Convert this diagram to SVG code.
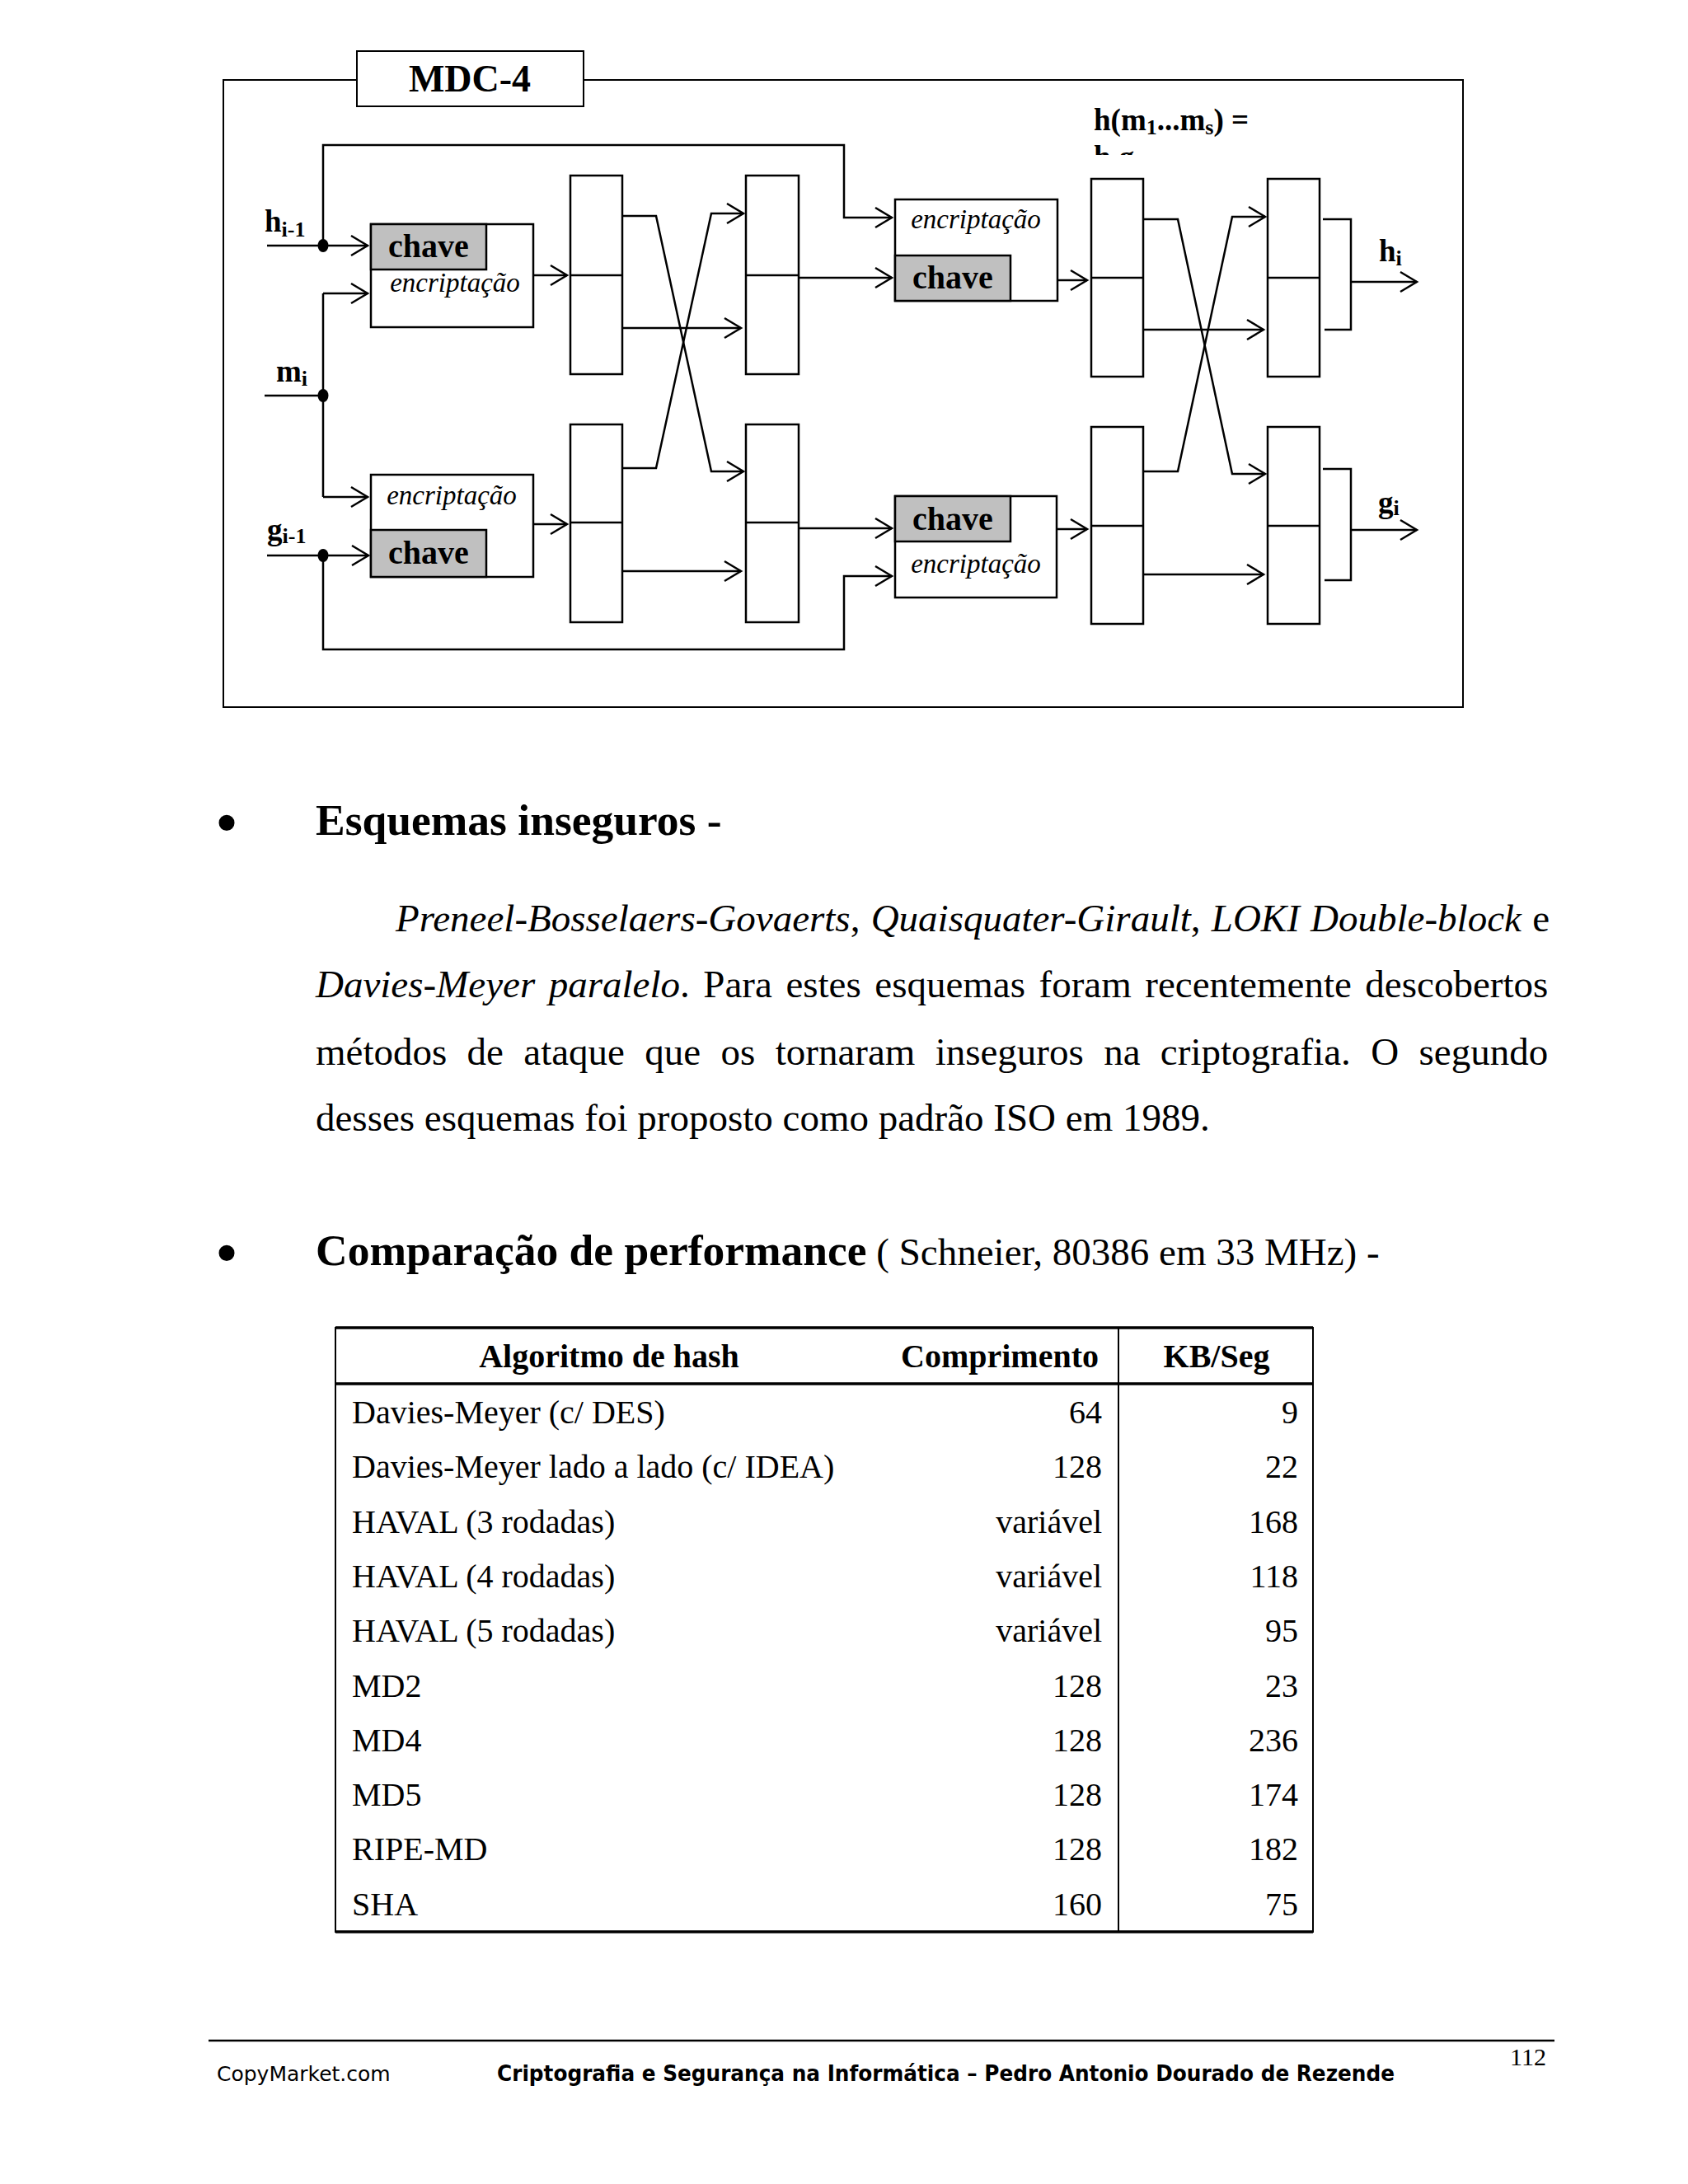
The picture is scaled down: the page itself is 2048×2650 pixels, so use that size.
<svg xmlns="http://www.w3.org/2000/svg" width="2048" height="2650" viewBox="0 0 2048 2650">
<style>
.ln{fill:none;stroke:#000;stroke-width:2.5}
.bx{fill:#fff;stroke:#000;stroke-width:2.5}
.key{fill:#c0c0c0;stroke:#000;stroke-width:2.5}
.kt{font-family:"Liberation Serif",serif;font-weight:bold;font-size:40px;text-anchor:middle}
.et{font-family:"Liberation Serif",serif;font-style:italic;font-size:33px;text-anchor:middle}
.lbl{font-family:"Liberation Serif",serif;font-weight:bold;font-size:37px}
.sub{font-size:26px}
.body{font-family:"Liberation Serif",serif;font-size:47px}
.it{font-style:italic}
.hd{font-family:"Liberation Serif",serif;font-weight:bold;font-size:53.5px}
.bul{font-family:"Liberation Serif",serif;font-size:80px}
.tb{font-family:"Liberation Serif",serif;font-size:40px}
.tbh{font-family:"Liberation Serif",serif;font-size:40px;font-weight:bold}
.r{text-anchor:end}
.c{text-anchor:middle}
</style>
<defs>
<marker id="ah" markerUnits="userSpaceOnUse" markerWidth="30" markerHeight="30" viewBox="-24 -15 30 30" refX="0" refY="0" orient="auto">
<path d="M-20,-12 L0,0 L-20,12" fill="none" stroke="#000" stroke-width="2.5"/>
</marker>
<clipPath id="clipH"><rect x="1300" y="100" width="300" height="88"/></clipPath>
</defs>
<rect width="2048" height="2650" fill="#fff"/>

<g id="frame">
<rect x="271" y="97" width="1504" height="761" fill="none" stroke="#000" stroke-width="2"/>
</g>

<g id="connectors">
<path class="ln" d="M324,298 H446" marker-end="url(#ah)"/>
<path class="ln" d="M392,298 V176 H1024 V264 H1082" marker-end="url(#ah)"/>
<path class="ln" d="M321,480 H392"/>
<path class="ln" d="M392,356 V603"/>
<path class="ln" d="M392,356 H446" marker-end="url(#ah)"/>
<path class="ln" d="M392,603 H446" marker-end="url(#ah)"/>
<path class="ln" d="M324,674 H447" marker-end="url(#ah)"/>
<path class="ln" d="M392,674 V788 H1024 V699 H1082" marker-end="url(#ah)"/>
<path class="ln" d="M647,334 H688" marker-end="url(#ah)"/>
<path class="ln" d="M647,636 H688" marker-end="url(#ah)"/>
<path class="ln" d="M755,262 H796 L863,572 H902" marker-end="url(#ah)"/>
<path class="ln" d="M755,568 H796 L863,259 H902" marker-end="url(#ah)"/>
<path class="ln" d="M755,398 H899" marker-end="url(#ah)"/>
<path class="ln" d="M755,693 H899" marker-end="url(#ah)"/>
<path class="ln" d="M969,337 H1082" marker-end="url(#ah)"/>
<path class="ln" d="M969,641 H1082" marker-end="url(#ah)"/>
<path class="ln" d="M1283,340 H1319" marker-end="url(#ah)"/>
<path class="ln" d="M1282,642 H1319" marker-end="url(#ah)"/>
<path class="ln" d="M1387,266 H1429 L1495,575 H1535" marker-end="url(#ah)"/>
<path class="ln" d="M1387,572 H1429 L1495,263 H1535" marker-end="url(#ah)"/>
<path class="ln" d="M1387,400 H1533" marker-end="url(#ah)"/>
<path class="ln" d="M1387,697 H1533" marker-end="url(#ah)"/>
<path class="ln" d="M1605,266 H1639 V400 H1607"/>
<path class="ln" d="M1639,342 H1719" marker-end="url(#ah)"/>
<path class="ln" d="M1605,569 H1639 V704 H1607"/>
<path class="ln" d="M1639,643 H1719" marker-end="url(#ah)"/>
</g>

<g id="dots">
<ellipse cx="392" cy="298" rx="6.5" ry="8"/>
<ellipse cx="392" cy="480" rx="6.5" ry="8"/>
<ellipse cx="392" cy="674" rx="6.5" ry="8"/>
</g>

<g id="title">
<rect x="433" y="62" width="275" height="67" fill="#fff" stroke="#000" stroke-width="2"/>
<text x="570" y="111" font-family="Liberation Serif, serif" font-weight="bold" font-size="46" text-anchor="middle">MDC-4</text>
</g>

<g id="formula">
<text x="1327" y="158" class="lbl" font-size="44">h(m<tspan class="sub" font-size="29" dy="5">1</tspan><tspan dy="-5">...m</tspan><tspan class="sub" font-size="29" dy="5">s</tspan><tspan dy="-5">) =</tspan></text>
<g clip-path="url(#clipH)">
<text x="1327" y="203" class="lbl" font-size="44">h<tspan class="sub" font-size="29" dy="5">s</tspan><tspan dy="-5">g</tspan><tspan class="sub" font-size="29" dy="5">s</tspan></text>
</g>
</g>

<g id="enc1">
<rect class="bx" x="450" y="272" width="197" height="125"/>
<rect class="key" x="450" y="272" width="140" height="55"/>
<text class="kt" x="520" y="312">chave</text>
<text class="et" x="552" y="354">encriptação</text>
</g>
<g id="enc2">
<rect class="bx" x="450" y="576" width="197" height="124"/>
<rect class="key" x="450" y="643" width="140" height="57"/>
<text class="et" x="548" y="612">encriptação</text>
<text class="kt" x="520" y="684">chave</text>
</g>
<g id="enc3">
<rect class="bx" x="1086" y="242" width="197" height="123"/>
<rect class="key" x="1086" y="310" width="140" height="55"/>
<text class="et" x="1184" y="277">encriptação</text>
<text class="kt" x="1156" y="350">chave</text>
</g>
<g id="enc4">
<rect class="bx" x="1086" y="602" width="196" height="123"/>
<rect class="key" x="1086" y="602" width="140" height="55"/>
<text class="kt" x="1156" y="643">chave</text>
<text class="et" x="1184" y="695">encriptação</text>
</g>

<g id="col1a"><rect class="bx" x="692" y="213" width="63" height="241"/><path class="ln" d="M692,334 H755"/></g>
<g id="col1b"><rect class="bx" x="692" y="515" width="63" height="240"/><path class="ln" d="M692,634 H755"/></g>
<g id="col2a"><rect class="bx" x="905" y="213" width="64" height="241"/><path class="ln" d="M905,334 H969"/></g>
<g id="col2b"><rect class="bx" x="905" y="515" width="64" height="240"/><path class="ln" d="M905,634 H969"/></g>
<g id="col3a"><rect class="bx" x="1324" y="217" width="63" height="240"/><path class="ln" d="M1324,337 H1387"/></g>
<g id="col3b"><rect class="bx" x="1324" y="518" width="63" height="239"/><path class="ln" d="M1324,638 H1387"/></g>
<g id="col4a"><rect class="bx" x="1538" y="217" width="63" height="240"/><path class="ln" d="M1538,337 H1601"/></g>
<g id="col4b"><rect class="bx" x="1538" y="518" width="63" height="239"/><path class="ln" d="M1538,638 H1601"/></g>

<g id="labels">
<text class="lbl" x="321" y="281">h<tspan class="sub" dy="6">i-1</tspan></text>
<text class="lbl" x="335" y="463">m<tspan class="sub" dy="5">i</tspan></text>
<text class="lbl" x="324" y="655">g<tspan class="sub" dy="4">i-1</tspan></text>
<text class="lbl" x="1673" y="317">h<tspan class="sub" dy="5">i</tspan></text>
<text class="lbl" x="1672" y="622">g<tspan class="sub" dy="3">i</tspan></text>
</g>

<g id="text-section">
<text class="bul" x="261" y="1025">•</text>
<text class="hd" x="383" y="1013">Esquemas inseguros -</text>
<text class="body" x="480" y="1130" word-spacing="1.5"><tspan class="it">Preneel-Bosselaers-Govaerts</tspan>, <tspan class="it">Quaisquater-Girault</tspan>, <tspan class="it">LOKI Double-block</tspan> e</text>
<text class="body" x="383" y="1210" word-spacing="4.8"><tspan class="it">Davies-Meyer paralelo</tspan>. Para estes esquemas foram recentemente descobertos</text>
<text class="body" x="383" y="1292" word-spacing="12.6">métodos de ataque que os tornaram inseguros na criptografia. O segundo</text>
<text class="body" x="383" y="1372">desses esquemas foi proposto como padrão ISO em 1989.</text>
<text class="bul" x="261" y="1547">•</text>
<text class="hd" x="383" y="1535">Comparação de performance<tspan class="body" font-weight="normal"> ( Schneier, 80386 em 33 MHz) -</tspan></text>
</g>

<g id="table">
<rect x="407" y="1611" width="1186" height="733" fill="none" stroke="#000" stroke-width="2"/>
<path d="M407,1611 H1593 M407,1679 H1593 M407,2344 H1593" stroke="#000" stroke-width="3.5" fill="none"/>
<path d="M1357,1611 V2344" stroke="#000" stroke-width="2" fill="none"/>
<text class="tbh c" x="739" y="1659">Algoritmo de hash</text>
<text class="tbh r" x="1333" y="1659">Comprimento</text>
<text class="tbh c" x="1476" y="1659">KB/Seg</text>
<g class="tb">
<text x="427" y="1727">Davies-Meyer (c/ DES)</text><text class="r" x="1337" y="1727">64</text><text class="r" x="1575" y="1727">9</text>
<text x="427" y="1793">Davies-Meyer lado a lado (c/ IDEA)</text><text class="r" x="1337" y="1793">128</text><text class="r" x="1575" y="1793">22</text>
<text x="427" y="1860">HAVAL (3 rodadas)</text><text class="r" x="1337" y="1860">variável</text><text class="r" x="1575" y="1860">168</text>
<text x="427" y="1926">HAVAL (4 rodadas)</text><text class="r" x="1337" y="1926">variável</text><text class="r" x="1575" y="1926">118</text>
<text x="427" y="1992">HAVAL (5 rodadas)</text><text class="r" x="1337" y="1992">variável</text><text class="r" x="1575" y="1992">95</text>
<text x="427" y="2059">MD2</text><text class="r" x="1337" y="2059">128</text><text class="r" x="1575" y="2059">23</text>
<text x="427" y="2125">MD4</text><text class="r" x="1337" y="2125">128</text><text class="r" x="1575" y="2125">236</text>
<text x="427" y="2191">MD5</text><text class="r" x="1337" y="2191">128</text><text class="r" x="1575" y="2191">174</text>
<text x="427" y="2257">RIPE-MD</text><text class="r" x="1337" y="2257">128</text><text class="r" x="1575" y="2257">182</text>
<text x="427" y="2324">SHA</text><text class="r" x="1337" y="2324">160</text><text class="r" x="1575" y="2324">75</text>
</g>
</g>

<g id="footer">
<path d="M253,2476 H1886" stroke="#000" stroke-width="2.5"/>
<text x="1876" y="2506" font-family="Liberation Serif, serif" font-size="30" text-anchor="end">112</text>
<text x="263" y="2525" font-family="DejaVu Sans, sans-serif" font-size="25">CopyMarket.com</text>
<text x="603" y="2525" font-family="DejaVu Sans, sans-serif" font-size="27" font-weight="bold" textLength="1089" lengthAdjust="spacingAndGlyphs">Criptografia e Segurança na Informática – Pedro Antonio Dourado de Rezende</text>
</g>
</svg>
